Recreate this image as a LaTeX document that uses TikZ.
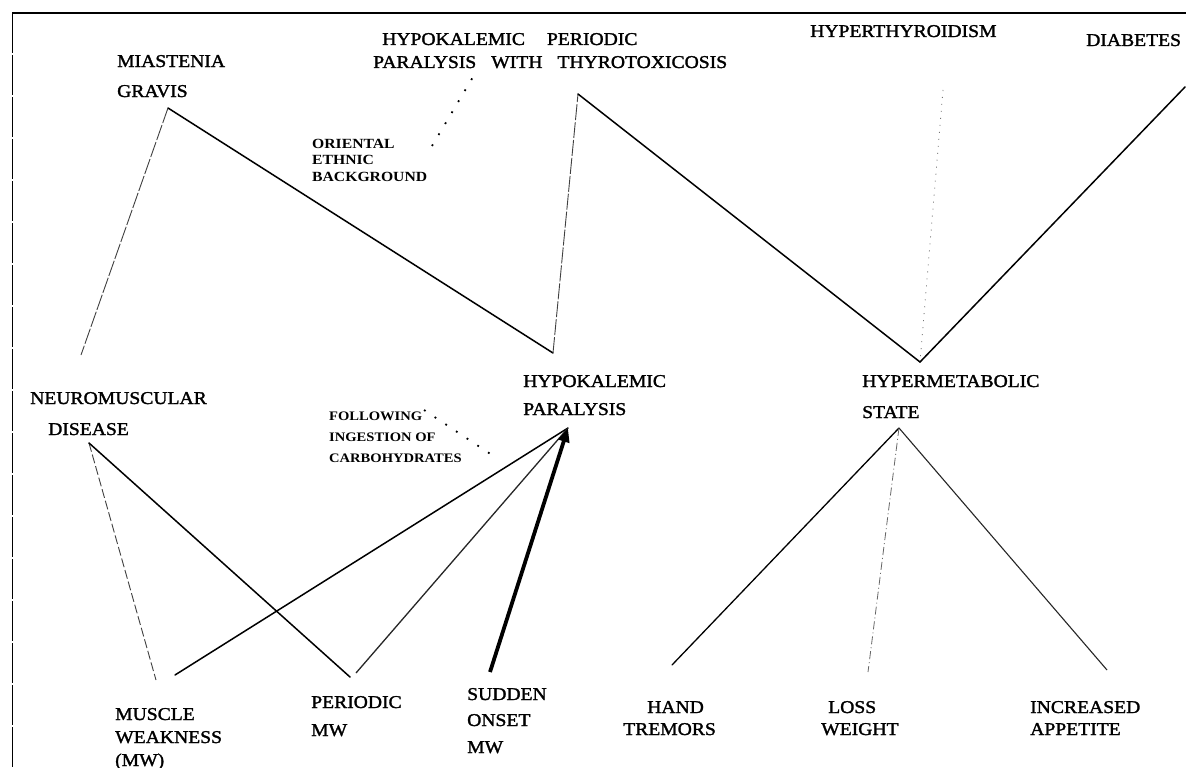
\documentclass[tikz,border=0pt]{standalone}
\usepackage{fontspec}
\setmainfont{Liberation Serif}
\newfontfamily\labfont[FakeStretch=1.09,FakeBold=1.6]{Liberation Serif}
\newfontfamily\notefont[FakeStretch=1.12]{Liberation Serif}
\usetikzlibrary{arrows.meta}
\begin{document}
\begin{tikzpicture}[x=1pt,y=-1pt,
  lab/.style={anchor=base west, inner sep=0pt, font=\labfont\fontsize{18}{18}\selectfont},
  notea/.style={anchor=base west, inner sep=0pt, font=\notefont\bfseries\fontsize{14}{14}\selectfont},
  noteb/.style={anchor=base west, inner sep=0pt, font=\notefont\bfseries\fontsize{13}{13}\selectfont},
  link/.style={line width=1.5pt, line cap=round},
  thinlink/.style={line width=1.1pt, black!85},
  brokenlink/.style={line width=0.9pt, black!75, dash pattern=on 16pt off 2pt},
  dashlink/.style={line width=0.9pt, black!75, dash pattern=on 9pt off 3pt},
  dashdotlink/.style={line width=0.8pt, black!60, dash pattern=on 8pt off 3pt on 1pt off 3pt},
  dotlink/.style={line width=0.8pt, black!55, dash pattern=on 1pt off 6pt},
  notelink/.style={line width=1.8pt, dash pattern=on 1.8pt off 11pt},
  heavy/.style={line width=3.8pt, -{Triangle[length=14pt,width=11pt]}},
  frame/.style={line width=1.6pt}
]
\useasboundingbox (0,0) rectangle (1186,768);
\fill[white] (0,0) rectangle (1186,768);

% frame
\draw[frame] (12,13) -- (1186,13);
\draw[line width=1pt, dash pattern=on 40pt off 2pt] (12,13) -- (12,768);

% connector points
\coordinate (mgv) at (168,108);
\coordinate (ndt) at (81,355);
\coordinate (hpt) at (553,353);
\coordinate (hppv) at (578,94);
\coordinate (hmt) at (920,362);
\coordinate (hyb) at (943,90);
\coordinate (dib) at (1185,87);
\coordinate (ors) at (432,146);
\coordinate (ore) at (473,77);
\coordinate (ndb) at (89,443);
\coordinate (mwa) at (156,680);
\coordinate (mwb) at (175,675);
\coordinate (pea) at (350,677);
\coordinate (peb) at (356,673);
\coordinate (sud) at (490,672);
\coordinate (hpb) at (568,428);
\coordinate (fos) at (424,410);
\coordinate (foe) at (498,459);
\coordinate (hmb) at (899,428);
\coordinate (hat) at (672,665);
\coordinate (lot) at (868,672);
\coordinate (inc) at (1107,670);

% labels
\node[lab] (mg1) at (117,67) {MIASTENIA};
\node[lab] (mg2) at (117,97) {GRAVIS};
\node[lab] (hpp1) at (382,45) {HYPOKALEMIC\hspace{22pt}PERIODIC};
\node[lab] (hpp2) at (373,68) {PARALYSIS\hspace{15pt}WITH\hspace{15pt}THYROTOXICOSIS};
\node[lab] (hy) at (810,37) {HYPERTHYROIDISM};
\node[lab] (di) at (1086,46) {DIABETES};
\node[notea] (or1) at (312,148) {ORIENTAL};
\node[notea] (or2) at (312,164) {ETHNIC};
\node[notea] (or3) at (312,181) {BACKGROUND};
\node[lab] (nd1) at (30,404) {NEUROMUSCULAR};
\node[lab] (nd2) at (48,435) {DISEASE};
\node[noteb] (fo1) at (329,420) {FOLLOWING};
\node[noteb] (fo2) at (329,441) {INGESTION OF};
\node[noteb] (fo3) at (329,462) {CARBOHYDRATES};
\node[lab] (hp1) at (523,387) {HYPOKALEMIC};
\node[lab] (hp2) at (523,415) {PARALYSIS};
\node[lab] (hm1) at (862,387) {HYPERMETABOLIC};
\node[lab] (hm2) at (862,418) {STATE};
\node[lab] (mw1) at (115,720) {MUSCLE};
\node[lab] (mw2) at (115,743) {WEAKNESS};
\node[lab] (mw3) at (115,766) {(MW)};
\node[lab] (pe1) at (311,708) {PERIODIC};
\node[lab] (pe2) at (311,736) {MW};
\node[lab] (su1) at (467,700) {SUDDEN};
\node[lab] (su2) at (467,726) {ONSET};
\node[lab] (su3) at (467,753) {MW};
\node[lab] (ha1) at (647,713) {HAND};
\node[lab] (ha2) at (623,735) {TREMORS};
\node[lab] (lo1) at (828,713) {LOSS};
\node[lab] (lo2) at (821,735) {WEIGHT};
\node[lab] (in1) at (1030,713) {INCREASED};
\node[lab] (in2) at (1030,735) {APPETITE};

% upper zigzag
\draw[brokenlink] (mgv) -- (ndt);
\draw[link] (mgv) -- (hpt);
\draw[brokenlink] (hpt) -- (hppv);
\draw[link] (hppv) -- (hmt);
\draw[dotlink] (hyb) -- (hmt);
\draw[link] (hmt) -- (dib);
\draw[notelink] (ors) -- (ore);

% lower left
\draw[dashlink] (ndb) -- (mwa);
\draw[link] (ndb) -- (pea);
\draw[link] (mwb) -- (hpb);
\draw[thinlink, line width=1.3pt] (peb) -- (hpb);
\draw[heavy] (sud) -- (hpb);
\draw[notelink] (fos) -- (foe);

% lower right
\draw[link, line width=1.3pt] (hmb) -- (hat);
\draw[dashdotlink] (hmb) -- (lot);
\draw[thinlink] (hmb) -- (inc);
\end{tikzpicture}
\end{document}
